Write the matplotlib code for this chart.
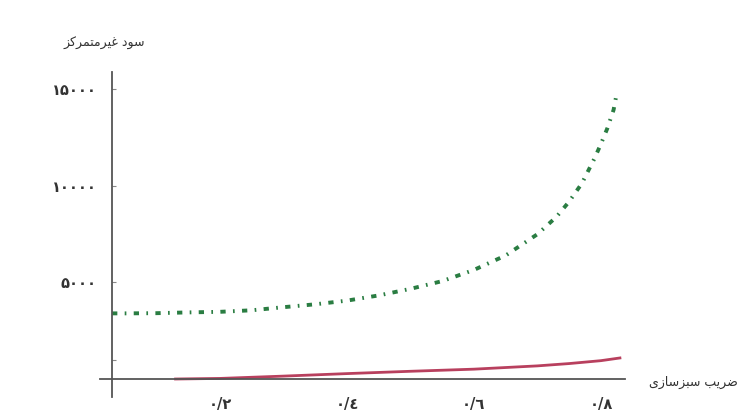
import matplotlib.pyplot as plt

plt.rcParams['lines.scale_dashes'] = False

# dane
x_zielony = [0.03, 0.05, 0.10, 0.15, 0.20, 0.25, 0.30, 0.35, 0.40, 0.45, 0.50, 0.55,
             0.60, 0.65, 0.70, 0.73, 0.75, 0.77, 0.79, 0.80, 0.81, 0.82, 0.825]
y_zielony = [3400, 3400, 3410, 3450, 3480, 3560, 3720, 3870, 4060, 4330, 4670, 5070,
             5650, 6400, 7500, 8400, 9190, 10130, 11430, 12170, 12970, 13940, 14800]

x_czerwony = [0.13, 0.20, 0.30, 0.40, 0.50, 0.60, 0.70, 0.75, 0.80, 0.83]
y_czerwony = [0, 30, 150, 280, 400, 510, 680, 800, 950, 1090]

x_ticks = [0.2, 0.4, 0.6, 0.8]
x_labels = ['\u06f0/\u06f2', '\u06f0/\u0664', '\u06f0/\u0666', '\u06f0/\u06f8']
y_ticks = [1000, 5000, 10000, 15000]
y_labels = ['', '\u06f5\u06f0\u06f0\u06f0', '\u06f1\u06f0\u06f0\u06f0\u06f0',
            '\u06f1\u06f5\u06f0\u06f0\u06f0']

# teksty perskie w formach prezentacyjnych (kolejnosc wizualna)
os_y = '\ufeb0\ufb90\ufeae\ufee4\ufe98\ufee3\ufeae\ufef4\ufecf \ufea9\ufeee\ufeb3'
os_x = '\u06cc\ufeaf\ufe8e\ufeb3\ufeb0\ufe92\ufeb3 \ufe90\ufef3\ufeae\ufebf'

fig = plt.figure(figsize=(7.53, 4.17), dpi=100)
ax = fig.add_axes([100 / 753, 20 / 417, 525 / 753, 325 / 417])

ax.plot(x_zielony, y_zielony, color='#2a7d42', lw=2.8,
        dashes=[3.8, 5.3, 1.2, 5.3])
ax.plot(x_czerwony, y_czerwony, color='#b8405e', lw=2.0)

ax.set_xlim(0.011, 0.838)
ax.set_ylim(-932, 15903)

for s in ['top', 'right']:
    ax.spines[s].set_visible(False)
ax.spines['left'].set_position(('data', 0.0294))
ax.spines['bottom'].set_position(('data', 0))
for s in ['left', 'bottom']:
    ax.spines[s].set_color('#555555')
    ax.spines[s].set_linewidth(1.3)

ax.set_xticks(x_ticks, x_labels)
ax.set_yticks(y_ticks, y_labels)
ax.tick_params(axis='x', length=0, pad=13, labelsize=10.5, labelcolor='#333333')
ax.tick_params(axis='y', direction='in', length=3, width=0.8, color='#888888',
               pad=11, labelsize=10.5, labelcolor='#333333')
for t in ax.get_xticklabels() + ax.get_yticklabels():
    t.set_fontweight('bold')

fig.text(104 / 753, 1 - 43 / 417, os_y, ha='center', va='center',
         fontsize=9, color='#333333', family='DejaVu Sans')
fig.text(693 / 753, 1 - 382 / 417, os_x, ha='center', va='center',
         fontsize=9, color='#333333', family='DejaVu Sans')

fig.savefig('out.png', dpi=100, facecolor='white')
